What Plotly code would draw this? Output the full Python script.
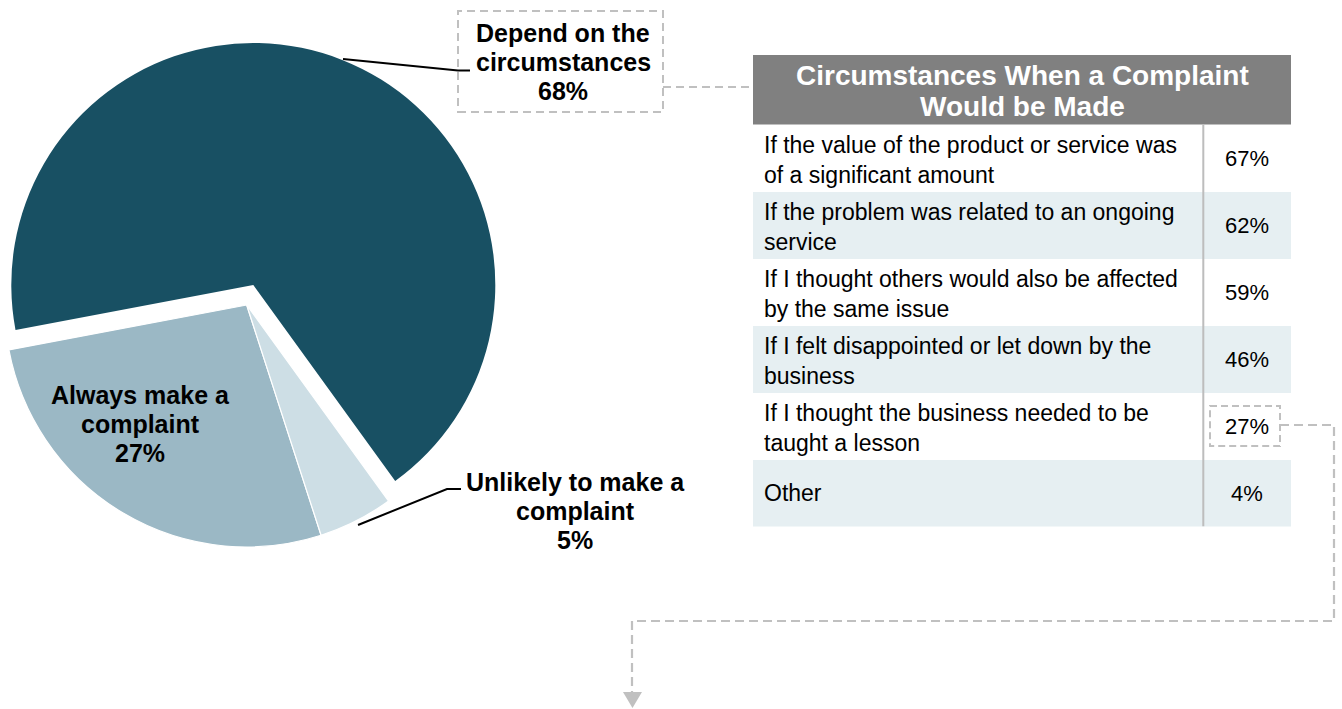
import plotly.graph_objects as go

W, H = 1342, 709

# ---------------- data ----------------
pie_label_lines = [
    ["Depend on the", "circumstances"],
    ["Always make a", "complaint"],
    ["Unlikely to make a", "complaint"],
]
pie_values = [68, 27, 5]

table_title_lines = ["Circumstances When a Complaint", "Would be Made"]
circ_labels = [
    "If the value of the product or service was<br>of a significant amount",
    "If the problem was related to an ongoing<br>service",
    "If I thought others would also be affected<br>by the same issue",
    "If I felt disappointed or let down by the<br>business",
    "If I thought the business needed to be<br>taught a lesson",
    "Other",
]
circ_values = [67, 62, 59, 46, 27, 4]
highlight_value = 27

# ---------------- styles ----------------
FONT = "Liberation Sans, Arial, Helvetica, sans-serif"
DARK = "#185063"
MID = "#9BB8C5"
LIGHT = "#CDDEE5"
CLEAR = "rgba(0,0,0,0)"
ROW_ALT = "#E6EFF2"
HEADER = "#808080"
DASHGRAY = "#C0C0C0"


def px(x):
    return x / W


def py(y):
    return 1 - y / H


def dom(cx, cy, r):
    return dict(x=[px(cx - r), px(cx + r)], y=[py(cy + r), py(cy - r)])


R = 242
ROT = 259.3
pie_names = [" ".join(l) for l in pie_label_lines]

fig = go.Figure()

# pulled-out slice (68%)
fig.add_trace(go.Pie(
    values=pie_values, labels=pie_names, sort=False,
    direction="counterclockwise", rotation=ROT,
    marker=dict(colors=[DARK, CLEAR, CLEAR], line=dict(width=0)),
    textinfo="none", hoverinfo="skip", showlegend=False,
    domain=dom(253.3, 285, R),
))
# remaining slices
fig.add_trace(go.Pie(
    values=pie_values, labels=pie_names, sort=False,
    direction="counterclockwise", rotation=ROT,
    marker=dict(colors=[CLEAR, MID, LIGHT],
                line=dict(color="white", width=[0, 1.2, 1.2])),
    textinfo="none", hoverinfo="skip", showlegend=False,
    domain=dom(246.7, 305, R),
))

# table rows as bars on a hidden axis
n = len(circ_values)
fig.add_trace(go.Bar(
    x=[1] * n, y=list(range(n)), base=0, orientation="h", width=1,
    marker=dict(color=["white" if i % 2 == 0 else ROW_ALT for i in range(n)],
                line=dict(width=0)),
    hoverinfo="skip", showlegend=False, xaxis="x", yaxis="y",
))

TX0, TX1 = 753, 1291


def tx(x):
    return (x - TX0) / (TX1 - TX0)


annotations = []
shapes = []

# header
shapes.append(dict(type="rect", xref="paper", yref="paper",
                   x0=px(TX0), x1=px(TX1), y0=py(124.5), y1=py(55),
                   fillcolor=HEADER, line=dict(width=0)))
for k, t in enumerate(table_title_lines):
    annotations.append(dict(xref="paper", yref="paper", x=px(1022), y=py(75 + 32 * k),
                            text="<b>" + t + "</b>", showarrow=False,
                            font=dict(family=FONT, size=28, color="white"),
                            xanchor="center", yanchor="middle", align="center"))

for i, (lab, val) in enumerate(zip(circ_labels, circ_values)):
    annotations.append(dict(xref="x", yref="y", x=tx(762), y=i, text=lab,
                            showarrow=False, xanchor="left", yanchor="middle",
                            align="left", yshift=-2 if "<br>" in lab else 0,
                            font=dict(family=FONT, size=23, color="black")))
    annotations.append(dict(xref="x", yref="y", x=tx(1247), y=i,
                            text=f"{val}%", showarrow=False,
                            xanchor="center", yanchor="middle",
                            font=dict(family=FONT, size=22, color="black")))

# divider
shapes.append(dict(type="line", xref="x", yref="y", x0=tx(1203.3), x1=tx(1203.3),
                   y0=-0.5, y1=n - 0.5, line=dict(color="#BDBDBD", width=2)))

# highlight box around 27%
hi = circ_values.index(highlight_value)
shapes.append(dict(type="rect", xref="x", yref="y", x0=tx(1210), x1=tx(1280),
                   y0=hi - 0.3, y1=hi + 0.3,
                   line=dict(color=DASHGRAY, width=2, dash="7px,4px")))

# connector from highlight box to arrow
pts = [(1280, 425), (1334, 425), (1334, 621), (632, 621), (632, 692)]
path = "M " + " L ".join(f"{px(a):.5f},{py(b):.5f}" for a, b in pts)
shapes.append(dict(type="path", xref="paper", yref="paper", path=path,
                   line=dict(color=DASHGRAY, width=2.2, dash="9px,5px")))
arrow = [(623, 692), (642, 692), (632.5, 708)]
shapes.append(dict(type="path", xref="paper", yref="paper",
                   path="M " + " L ".join(f"{px(a):.5f},{py(b):.5f}" for a, b in arrow) + " Z",
                   fillcolor=DASHGRAY, line=dict(width=0)))

# dashed box around "Depend" label + connector to table header
shapes.append(dict(type="rect", xref="paper", yref="paper",
                   x0=px(458), x1=px(663), y0=py(112), y1=py(11),
                   line=dict(color=DASHGRAY, width=2, dash="8px,5px")))
shapes.append(dict(type="line", xref="paper", yref="paper",
                   x0=px(663), x1=px(TX0), y0=py(87), y1=py(87),
                   line=dict(color=DASHGRAY, width=2, dash="8px,5px")))

# leader lines
for pts in ([(343, 59), (458, 70.5), (470, 70.5)],
            [(358, 525), (447, 489), (461, 489)]):
    shapes.append(dict(type="path", xref="paper", yref="paper",
                       path="M " + " L ".join(f"{px(a):.5f},{py(b):.5f}" for a, b in pts),
                       line=dict(color="black", width=2)))

# pie labels (one annotation per line for tight spacing)
label_pos = [(563, 33), (140, 395), (575, 482)]
LINE_GAP = 29
for lines, val, (cx, cy) in zip(pie_label_lines, pie_values, label_pos):
    for k, t in enumerate(lines + [f"{val}%"]):
        annotations.append(dict(xref="paper", yref="paper", x=px(cx),
                                y=py(cy + k * LINE_GAP), text=f"<b>{t}</b>",
                                showarrow=False, xanchor="center",
                                yanchor="middle",
                                font=dict(family=FONT, size=25, color="black")))

fig.update_layout(
    width=W, height=H, margin=dict(l=0, r=0, t=0, b=0),
    paper_bgcolor="white", plot_bgcolor="rgba(0,0,0,0)",
    xaxis=dict(domain=[px(TX0), px(TX1)], range=[0, 1], visible=False,
               fixedrange=True),
    yaxis=dict(domain=[py(526.5), py(124.5)], range=[n - 0.5, -0.5],
               visible=False, fixedrange=True),
    shapes=shapes, annotations=annotations, bargap=0,
)

fig.write_html(
    "out.html",
    config={"displayModeBar": False},
    post_script="document.body.style.margin='0';document.body.style.overflow='hidden';",
)
